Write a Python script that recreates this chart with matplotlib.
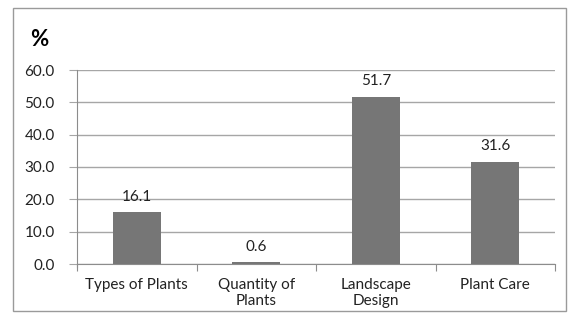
import matplotlib.pyplot as plt
from matplotlib.patches import Rectangle

categories = ['Types of Plants', 'Quantity of\nPlants', 'Landscape\nDesign', 'Plant Care']
values = [16.1, 0.6, 51.7, 31.6]
yticks = [0, 10, 20, 30, 40, 50, 60]

plt.rcParams['font.family'] = ['Lato', 'DejaVu Sans']

fig = plt.figure(figsize=(5.72, 3.19), dpi=100)
W, H = 572, 319
# plot area in pixels: x 77..555, y 70..264 (top..bottom)
ax = fig.add_axes([77 / W, 1 - 264 / H, (555 - 77) / W, (264 - 70) / H])

# outer chart border
fig.patches.append(Rectangle((12.5 / W, 1 - 311 / H), (566 - 12.5) / W, (311 - 8) / H,
                             transform=fig.transFigure, fill=False,
                             edgecolor='#9a9a9a', linewidth=1))

x = list(range(len(categories)))
ax.bar(x, values, width=0.4, color='#767676', zorder=3)
for xi, v in zip(x, values):
    ax.text(xi, v + 2.6, '%.1f' % v, ha='center', va='bottom', fontsize=11, color='#222222')

ax.set_xlim(-0.5, len(categories) - 0.5)
ax.set_ylim(0, 60)
ax.set_yticks(yticks)
ax.set_yticklabels(['%.1f' % t for t in yticks], fontsize=11, color='#222222')
ax.yaxis.grid(True, color='#a6a6a6', linewidth=1, zorder=0)

ax.set_xticks([i - 0.5 for i in range(len(categories) + 1)], minor=False)
ax.set_xticklabels([''] * (len(categories) + 1))
ax.set_xticks(x, minor=True)
ax.set_xticklabels(categories, minor=True, fontsize=11, color='#222222', linespacing=1.15)
ax.tick_params(axis='x', which='minor', length=0, pad=10)
ax.tick_params(axis='x', which='major', length=5, color='#8c8c8c', direction='out')
ax.tick_params(axis='y', length=6, color='#a6a6a6', pad=10)

for s in ['top', 'right']:
    ax.spines[s].set_visible(False)
ax.spines['left'].set_color('#8c8c8c')
ax.spines['left'].set_bounds(-0.8, 60)
ax.spines['bottom'].set_color('#8c8c8c')

fig.text(39 / W, 1 - 40 / H, '%', fontsize=16, fontweight='bold', ha='center', va='center')

fig.savefig('out.png', dpi=100)
